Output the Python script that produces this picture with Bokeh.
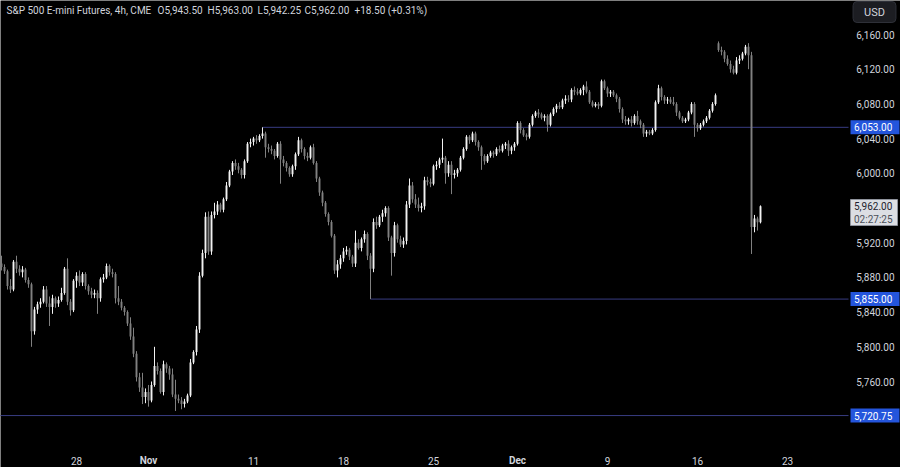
from bokeh.plotting import figure
from bokeh.models import Label, ColumnDataSource, Range1d
from bokeh.core.properties import value
from bokeh.embed import file_html
from bokeh.resources import INLINE

# ---------------- data (4h bars) ----------------
opens = [5896, 5892, 5887, 5870, 5866, 5898, 5890, 5886, 5889, 5877,
         5872, 5818, 5843, 5849, 5852, 5866, 5850, 5846, 5856, 5850,
         5854, 5862, 5890, 5852, 5842, 5876, 5882, 5874, 5884, 5870,
         5864, 5860, 5862, 5856, 5878, 5880, 5893, 5886, 5884, 5856,
         5852, 5845, 5840, 5827, 5812, 5792, 5765, 5753, 5742, 5748,
         5738, 5756, 5778, 5772, 5748, 5780, 5775, 5768, 5745, 5740,
         5738, 5734, 5737, 5744, 5782, 5794, 5820, 5882, 5908, 5950,
         5910, 5952, 5956, 5964, 5958, 5970, 5986, 6002, 6012, 6008,
         6004, 5998, 6014, 6034, 6036, 6040, 6038, 6043, 6046, 6030,
         6028, 6026, 6020, 6034, 6016, 6012, 6006, 5999, 6008, 6022,
         6038, 6028, 6020, 6018, 6030, 6012, 5994, 5978, 5966, 5953,
         5944, 5928, 5888, 5895, 5902, 5910, 5912, 5904, 5896, 5920,
         5914, 5924, 5930, 5905, 5890, 5944, 5940, 5950, 5954, 5960,
         5926, 5908, 5940, 5924, 5918, 5922, 5964, 5986, 5970, 5964,
         5960, 5962, 5992, 5990, 5988, 6008, 6010, 6016, 6018, 6000,
         6010, 5998, 6000, 6004, 6018, 6028, 6042, 6038, 6046, 6036,
         6030, 6020, 6014, 6020, 6024, 6022, 6028, 6026, 6032, 6034,
         6026, 6030, 6034, 6058, 6050, 6044, 6042, 6056, 6066, 6070,
         6068, 6064, 6066, 6056, 6068, 6074, 6078, 6076, 6084, 6086,
         6085, 6096, 6094, 6092, 6096, 6100, 6094, 6082, 6078, 6080,
         6078, 6106, 6098, 6092, 6094, 6090, 6086, 6074, 6062, 6060,
         6062, 6058, 6066, 6060, 6056, 6046, 6048, 6046, 6050, 6082,
         6098, 6088, 6084, 6085, 6082, 6080, 6070, 6064, 6060, 6062,
         6070, 6080, 6056, 6052, 6056, 6060, 6064, 6072, 6080, 6150,
         6142, 6140, 6132, 6126, 6120, 6116, 6130, 6132, 6138, 6146,
         6136, 5938, 5948, 5943.5]
highs = [5905, 5895, 5889, 5878, 5900, 5905, 5894, 5893, 5891, 5880,
         5874, 5846, 5852, 5856, 5870, 5870, 5858, 5860, 5858, 5858,
         5868, 5892, 5902, 5855, 5878, 5886, 5888, 5886, 5886, 5872,
         5868, 5866, 5865, 5880, 5884, 5896, 5895, 5890, 5886, 5870,
         5855, 5847, 5842, 5834, 5822, 5795, 5770, 5770, 5752, 5756,
         5760, 5800, 5782, 5775, 5784, 5782, 5778, 5775, 5762, 5745,
         5742, 5740, 5746, 5786, 5796, 5824, 5886, 5912, 5955, 5956,
         5956, 5966, 5968, 5966, 5972, 5990, 6004, 6014, 6016, 6012,
         6006, 6016, 6036, 6040, 6042, 6044, 6045, 6053, 6048, 6034,
         6032, 6028, 6036, 6037, 6020, 6014, 6008, 6010, 6024, 6042,
         6040, 6030, 6024, 6032, 6034, 6014, 5996, 5980, 5968, 5955,
         5946, 5930, 5900, 5906, 5914, 5916, 5914, 5906, 5934, 5924,
         5926, 5934, 5932, 5908, 5948, 5950, 5952, 5958, 5962, 5962,
         5928, 5944, 5942, 5928, 5926, 5968, 5994, 5990, 5976, 5972,
         5966, 5996, 5996, 5994, 6010, 6014, 6018, 6040, 6020, 6014,
         6014, 6004, 6006, 6020, 6030, 6044, 6044, 6048, 6048, 6038,
         6032, 6022, 6022, 6026, 6026, 6030, 6032, 6034, 6036, 6038,
         6032, 6036, 6060, 6060, 6052, 6046, 6058, 6068, 6072, 6074,
         6070, 6068, 6068, 6070, 6076, 6080, 6082, 6086, 6090, 6090,
         6098, 6100, 6098, 6098, 6102, 6106, 6096, 6084, 6082, 6082,
         6108, 6108, 6100, 6096, 6096, 6092, 6088, 6076, 6066, 6064,
         6066, 6068, 6072, 6062, 6058, 6050, 6050, 6052, 6084, 6102,
         6100, 6090, 6088, 6088, 6088, 6082, 6072, 6066, 6064, 6072,
         6082, 6082, 6058, 6058, 6062, 6066, 6074, 6082, 6092, 6152,
         6146, 6142, 6136, 6130, 6124, 6134, 6136, 6140, 6148, 6150,
         6140, 5952, 5950, 5963]
lows = [5888, 5884, 5866, 5862, 5864, 5885, 5882, 5880, 5874, 5868,
        5800, 5814, 5838, 5845, 5850, 5846, 5824, 5838, 5845, 5846,
        5852, 5860, 5848, 5836, 5840, 5868, 5870, 5870, 5866, 5860,
        5856, 5856, 5838, 5852, 5874, 5878, 5882, 5880, 5850, 5848,
        5842, 5836, 5824, 5808, 5788, 5760, 5748, 5734, 5735, 5731,
        5736, 5754, 5768, 5746, 5744, 5770, 5762, 5742, 5726, 5735,
        5728, 5730, 5735, 5742, 5780, 5790, 5816, 5880, 5902, 5906,
        5906, 5948, 5952, 5955, 5955, 5968, 5984, 5998, 6004, 6000,
        5994, 5994, 6012, 6030, 6032, 6034, 6036, 6040, 6018, 6024,
        6022, 6016, 6018, 5988, 6008, 6002, 5996, 5996, 6004, 6020,
        6024, 6016, 6014, 6016, 6010, 5990, 5974, 5962, 5950, 5940,
        5926, 5884, 5880, 5890, 5898, 5906, 5900, 5892, 5892, 5912,
        5910, 5920, 5900, 5855, 5886, 5936, 5938, 5944, 5950, 5922,
        5882, 5904, 5920, 5915, 5914, 5918, 5960, 5966, 5960, 5956,
        5955, 5958, 5986, 5984, 5986, 6004, 6006, 6012, 5988, 5996,
        5976, 5994, 5996, 6002, 6016, 6026, 6034, 6036, 6032, 6026,
        6004, 6010, 6012, 6018, 6018, 6020, 6024, 6024, 6028, 6020,
        6022, 6026, 6032, 6046, 6042, 6038, 6040, 6054, 6064, 6064,
        6062, 6060, 6048, 6054, 6066, 6070, 6074, 6074, 6080, 6082,
        6082, 6090, 6090, 6090, 6090, 6092, 6080, 6076, 6076, 6074,
        6076, 6096, 6088, 6088, 6088, 6082, 6070, 6058, 6056, 6056,
        6054, 6056, 6056, 6052, 6042, 6042, 6044, 6044, 6048, 6080,
        6084, 6080, 6080, 6080, 6078, 6066, 6062, 6058, 6058, 6060,
        6068, 6042, 6048, 6050, 6054, 6058, 6062, 6070, 6078, 6140,
        6136, 6128, 6124, 6116, 6114, 6114, 6126, 6130, 6136, 6120,
        5907, 5932, 5934, 5942.25]
closes = [5892, 5887, 5870, 5866, 5898, 5890, 5886, 5889, 5877, 5872,
          5818, 5843, 5849, 5852, 5866, 5850, 5846, 5856, 5850, 5854,
          5862, 5890, 5852, 5842, 5876, 5882, 5874, 5884, 5870, 5864,
          5860, 5862, 5856, 5878, 5880, 5893, 5886, 5884, 5856, 5852,
          5845, 5840, 5827, 5812, 5792, 5765, 5753, 5742, 5748, 5738,
          5756, 5778, 5772, 5748, 5780, 5775, 5768, 5745, 5740, 5738,
          5734, 5737, 5744, 5782, 5794, 5820, 5882, 5908, 5950, 5910,
          5952, 5956, 5964, 5958, 5970, 5986, 6002, 6012, 6008, 6004,
          5998, 6014, 6034, 6036, 6040, 6038, 6043, 6046, 6030, 6028,
          6026, 6020, 6034, 6016, 6012, 6006, 5999, 6008, 6022, 6038,
          6028, 6020, 6018, 6030, 6012, 5994, 5978, 5966, 5953, 5944,
          5928, 5888, 5895, 5902, 5910, 5912, 5904, 5896, 5920, 5914,
          5924, 5930, 5905, 5890, 5944, 5940, 5950, 5954, 5960, 5926,
          5908, 5940, 5924, 5918, 5922, 5964, 5986, 5970, 5964, 5960,
          5962, 5992, 5990, 5988, 6008, 6010, 6016, 6018, 6000, 6010,
          5998, 6000, 6004, 6018, 6028, 6042, 6038, 6046, 6036, 6030,
          6020, 6014, 6020, 6024, 6022, 6028, 6026, 6032, 6034, 6026,
          6030, 6034, 6058, 6050, 6044, 6042, 6056, 6066, 6070, 6068,
          6064, 6066, 6056, 6068, 6074, 6078, 6076, 6084, 6086, 6085,
          6096, 6094, 6092, 6096, 6100, 6094, 6082, 6078, 6080, 6078,
          6106, 6098, 6092, 6094, 6090, 6086, 6074, 6062, 6060, 6062,
          6058, 6066, 6060, 6056, 6046, 6048, 6046, 6050, 6082, 6098,
          6088, 6084, 6085, 6082, 6080, 6070, 6064, 6060, 6062, 6070,
          6080, 6056, 6052, 6056, 6060, 6064, 6072, 6080, 6090, 6142,
          6140, 6132, 6126, 6120, 6116, 6130, 6132, 6138, 6146, 6136,
          5938, 5948, 5943.5, 5962]

time_tick_pos = [25, 49, 84, 114, 144, 172, 202, 232, 262]
time_tick_labels = ["28", "Nov", "11", "18", "25", "Dec", "9", "16", "23"]
bold_time_labels = ["Nov", "Dec"]
price_ticks = [5760, 5800, 5840, 5880, 5920, 5960, 6000, 6040, 6080, 6120, 6160]
level_prices = [6053.00, 5855.00, 5720.75]
level_start_bar = [87, 123, -10]
last_price = 5962.00
countdown = "02:27:25"
legend_parts = ["S&P 500 E-mini Futures, 4h, CME", "O5,943.50", "H5,963.00",
                "L5,942.25", "C5,962.00", "+18.50 (+0.31%)"]
currency = "USD"

# ---------------- layout (pixel geometry of the picture) ----------------
FIG_W, FIG_H = 900, 467
BAR_PX = 3.0          # pixels per 4h bar
PX_PER_PT = 0.8675    # pixels per index point
X0 = -1.0 / 3.0
X1 = X0 + FIG_W / BAR_PX

def dx(px):
    return X0 + px / BAR_PX

def dy(py):
    return 6160.0 - (py - 34.0) / PX_PER_PT

def dh(pix):
    return pix / PX_PER_PT

UP, DOWN = "#f2f2f2", "#808080"
TXT = "#d1d4dc"
FONT = "Roboto"
LEVEL = "#383c82"
TAG = "#2455dc"

n = len(closes)
idx = list(range(n))
colors = [UP if c >= o else DOWN for o, c in zip(opens, closes)]
src = ColumnDataSource(dict(
    x=idx, o=opens, h=highs, l=lows, c=closes, color=colors,
    top=[max(o, c) for o, c in zip(opens, closes)],
    bot=[min(o, c) for o, c in zip(opens, closes)],
))

p = figure(width=FIG_W, height=FIG_H, x_range=Range1d(X0, X1), y_range=Range1d(dy(FIG_H), dy(0)),
           x_axis_location=None, y_axis_location=None,
           output_backend="svg", toolbar_location=None,
           min_border=0, min_border_left=0, min_border_right=0, min_border_top=0, min_border_bottom=0,
           background_fill_color="#000000", border_fill_color="#000000",
           outline_line_color=None)
p.xgrid.visible = False
p.ygrid.visible = False

PLOT_RIGHT = dx(848)

# level lines
p.segment(x0=level_start_bar, x1=[PLOT_RIGHT] * len(level_prices), y0=level_prices, y1=level_prices,
          line_color=LEVEL, line_width=1)

# candles
p.segment(x0="x", y0="l", x1="x", y1="h", line_color="color", line_width=1, source=src)
p.vbar(x="x", width=0.64, top="top", bottom="bot", fill_color="color", line_color=None, source=src)

# price scale labels
p.text(x=[dx(894)] * len(price_ticks), y=price_ticks, text=[f"{v:,.2f}" for v in price_ticks],
       text_align="right", text_baseline="middle", text_color=TXT,
       text_font=value(FONT), text_font_size="10px")

# time scale labels
norm = [(pos, lab) for pos, lab in zip(time_tick_pos, time_tick_labels) if lab not in bold_time_labels]
bold = [(pos, lab) for pos, lab in zip(time_tick_pos, time_tick_labels) if lab in bold_time_labels]
p.text(x=[a for a, _ in norm], y=[dy(460)] * len(norm), text=[b for _, b in norm],
       text_align="center", text_baseline="middle", text_color=TXT,
       text_font=value(FONT), text_font_size="10px")
p.text(x=[a for a, _ in bold], y=[dy(460)] * len(bold), text=[b for _, b in bold],
       text_align="center", text_baseline="middle", text_color=TXT,
       text_font=value(FONT), text_font_size="10px", text_font_style="bold")

# legend line at top left
legend_px = [6, 157, 207, 257, 304, 354]
p.text(x=[dx(v) for v in legend_px], y=[dy(10)] * len(legend_parts), text=legend_parts,
       text_align="left", text_baseline="middle", text_color=TXT,
       text_font=value(FONT), text_font_size="10px")

# level price tags
p.quad(left=[dx(850)] * len(level_prices), right=[dx(899)] * len(level_prices),
       top=[v + dh(7) for v in level_prices], bottom=[v - dh(7) for v in level_prices],
       fill_color=TAG, line_color=None)
p.text(x=[dx(853.5)] * len(level_prices), y=level_prices, text=[f"{v:,.2f}" for v in level_prices],
       text_align="left", text_baseline="middle", text_color="#ffffff",
       text_font=value(FONT), text_font_size="10px")

# last price tag with countdown
p.quad(left=[dx(850)], right=[dx(897)], top=[dy(199)], bottom=[dy(225)],
       fill_color="#dcdee3", line_color="#8f939c", line_width=1)
p.text(x=[dx(853.5), dx(853.5)], y=[dy(205.5), dy(218.5)], text=[f"{last_price:,.2f}", countdown],
       text_align="left", text_baseline="middle", text_color=["#1e222d", "#4a4e58"],
       text_font=value(FONT), text_font_size="10px")

# currency button
p.add_layout(Label(x=dx(874), y=dy(11.5), text=currency, text_align="center", text_baseline="middle",
                   text_color=TXT, text_font=FONT, text_font_size="11px",
                   background_fill_color="#1c1d22", border_line_color="#2e3038",
                   padding=(11, 4), border_radius=4))

open("out.html", "w").write(file_html(p, INLINE))
